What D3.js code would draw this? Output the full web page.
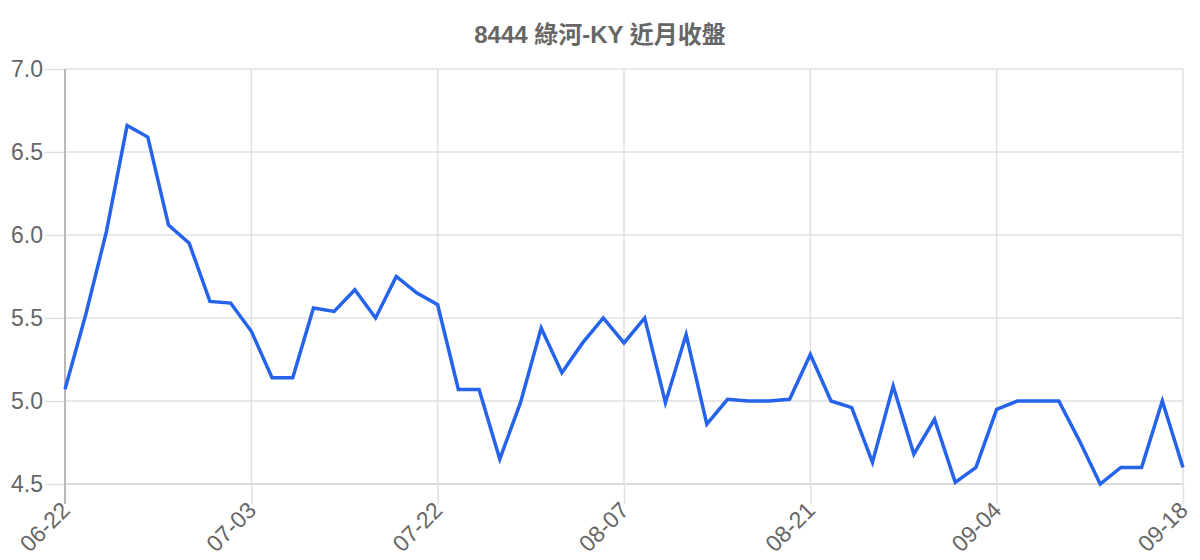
<!DOCTYPE html>
<html>
<head>
<meta charset="utf-8">
<script src="https://cdn.jsdelivr.net/npm/d3@7"></script>
<style>
  html, body { margin: 0; padding: 0; background: #fff; }
  svg { display: block; }
</style>
</head>
<body>
<svg id="chart" width="1200" height="560"></svg>
<script>
const title = "8444 綠河-KY 近月收盤";
const closes = [
  5.07, 5.52, 6.02, 6.66, 6.59, 6.06, 5.95, 5.60, 5.59, 5.42,
  5.14, 5.14, 5.56, 5.54, 5.67, 5.50, 5.75, 5.65, 5.58, 5.07,
  5.07, 4.65, 4.99, 5.44, 5.17, 5.35, 5.50, 5.35, 5.50, 4.99,
  5.40, 4.86, 5.01, 5.00, 5.00, 5.01, 5.28, 5.00, 4.96, 4.63,
  5.09, 4.68, 4.89, 4.51, 4.60, 4.95, 5.00, 5.00, 5.00, 4.76,
  4.50, 4.60, 4.60, 5.00, 4.60
];
const tickIndex = [0, 9, 18, 27, 36, 45, 54];
const tickLabels = ["06-22", "07-03", "07-22", "08-07", "08-21", "09-04", "09-18"];
const yTicks = [4.5, 5.0, 5.5, 6.0, 6.5, 7.0];

(function () {
const svg = d3.select("#chart");
const pL = 65, pR = 1183, pT = 69, pB = 484;
const font = "'Liberation Sans', Arial, 'Noto Sans CJK TC', sans-serif";

const x = d3.scaleLinear().domain([0, closes.length - 1]).range([pL, pR]);
const y = d3.scaleLinear().domain([4.5, 7.0]).range([pB, pT]);

// title
svg.append("text")
  .attr("x", 600).attr("y", 43)
  .attr("text-anchor", "middle")
  .attr("font-family", font)
  .attr("font-weight", "bold")
  .attr("font-size", 24)
  .attr("fill", "#666")
  .text(title);

// y axis
const yAxis = d3.axisLeft(y).tickValues(yTicks).tickFormat(d3.format(".1f"))
  .tickSize(20).tickPadding(2);
const gy = svg.append("g").attr("transform", `translate(${pL},0)`).call(yAxis);
gy.select(".domain").remove();
gy.selectAll(".tick line").attr("stroke", "#e0e0e0").attr("stroke-width", 1.5);
gy.selectAll(".tick text").attr("font-family", font).attr("font-size", 23).attr("fill", "#666");

// horizontal grid
svg.append("g").selectAll("line").data(yTicks).join("line")
  .attr("x1", pL).attr("x2", pR)
  .attr("y1", d => y(d)).attr("y2", d => y(d))
  .attr("stroke", d => d === 4.5 ? "#cfcfcf" : "#e0e0e0").attr("stroke-width", 1.5);

// x axis
const xAxis = d3.axisBottom(x).tickValues(tickIndex)
  .tickFormat((d, i) => tickLabels[i]).tickSize(20).tickPadding(0);
const gx = svg.append("g").attr("transform", `translate(0,${pB})`).call(xAxis);
gx.select(".domain").remove();
gx.selectAll(".tick line").attr("stroke", "#e0e0e0").attr("stroke-width", 1.5);
gx.selectAll(".tick text")
  .attr("font-family", font).attr("font-size", 23).attr("fill", "#666")
  .attr("text-anchor", "end")
  .attr("transform", "translate(0,22) rotate(-45)")
  .attr("dy", "0.35em").attr("y", 0);

// vertical grid
svg.append("g").selectAll("line").data(tickIndex).join("line")
  .attr("x1", d => x(d)).attr("x2", d => x(d))
  .attr("y1", pT).attr("y2", pB)
  .attr("stroke", "#e0e0e0").attr("stroke-width", 1.5);

// left axis line
svg.append("line")
  .attr("x1", pL).attr("x2", pL).attr("y1", pT).attr("y2", pB + 20)
  .attr("stroke", "#aaa").attr("stroke-width", 1.5);

// line
const line = d3.line().x((d, i) => x(i)).y(d => y(d));
svg.append("path").datum(closes)
  .attr("d", line)
  .attr("fill", "none")
  .attr("stroke", "#2563eb")
  .attr("stroke-width", 3.5)
  .attr("stroke-linejoin", "miter");
})();
</script>
</body>
</html>
